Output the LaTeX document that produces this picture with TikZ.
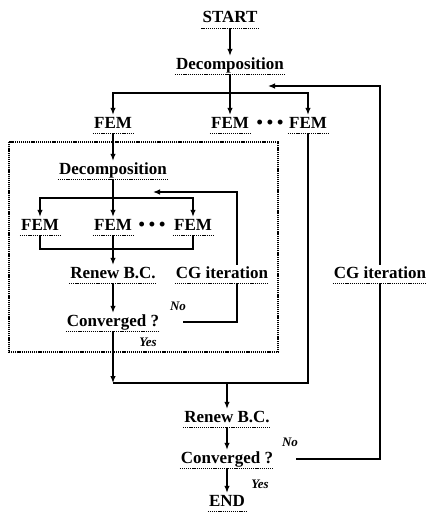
\documentclass[tikz,border=0pt]{standalone}
\usepackage{fontspec}
\setmainfont{Liberation Serif}
\usetikzlibrary{arrows.meta}

\begin{document}
\begin{tikzpicture}[x=1pt, y=-1pt,
    uline/.style={dash pattern=on 1.2pt off 0.9pt, line width=1.2pt},
    lbl/.style={font=\fontsize{17}{20}\selectfont\bfseries, inner xsep=0pt, inner ysep=1.5pt, text height=11.5pt, text depth=3.5pt,
      append after command={\pgfextra{\draw[uline] ([xshift=-1pt]\tikzlastnode.south west) -- ([xshift=1pt]\tikzlastnode.south east);}}},
    dots/.style={font=\fontsize{18}{20}\selectfont\bfseries, inner xsep=0pt, inner ysep=1.5pt, text height=11.5pt, text depth=3.5pt},
    note/.style={font=\fontsize{13}{14}\selectfont\bfseries\itshape, inner sep=1pt},
    line/.style={line width=1.2pt},
    arrow/.style={line, -{Latex[length=7pt, width=5.5pt]}},
    frame/.style={dash pattern=on 1.2pt off 0.9pt, line width=1.3pt}
  ]
  \useasboundingbox (0,0) rectangle (428,514);

  % outer level
  \node[lbl] (start) at (230,19) {START};
  \node[lbl] (dec) at (230,65) {Decomposition};
  \node[lbl] (fem1) at (113,124) {FEM};
  \node[lbl] (fem2) at (230,124) {FEM};
  \node[dots] (dots) at (270,124) {•\hspace{4pt}•\hspace{4pt}•};
  \node[lbl] (fem3) at (308,124) {FEM};
  \node[lbl] (cgo) at (380,274) {CG iteration};
  \node[lbl] (renew) at (227,418) {Renew B.C.};
  \node[lbl] (conv) at (227,459) {Converged ?};
  \node[lbl] (end) at (227,502) {END};
  \node[note] (no) at (290,442) {No};
  \node[note] (yes) at (260,484) {Yes};

  % inner level
  \node[lbl] (idec) at (113,170) {Decomposition};
  \node[lbl] (ifem1) at (40,226) {FEM};
  \node[lbl] (ifem2) at (113,226) {FEM};
  \node[dots] (idots) at (152,226) {•\hspace{4pt}•\hspace{4pt}•};
  \node[lbl] (ifem3) at (193,226) {FEM};
  \node[lbl] (irenew) at (113,274) {Renew B.C.};
  \node[lbl] (icg) at (222,274) {CG iteration};
  \node[lbl] (iconv) at (113,322) {Converged ?};
  \node[note] (ino) at (178,306) {No};
  \node[note] (iyes) at (148,342) {Yes};

  \coordinate (split) at (230,93);
  \coordinate (fb) at (268,86);
  \coordinate (isplit) at (113,198);
  \coordinate (ifb) at (153,192);
  \coordinate (ijoin) at (113,249);
  \coordinate (ojoinL) at (113,383);
  \coordinate (ojoin) at (227,383);

  \draw[frame] (9,142) rectangle (278,352);

  \draw[arrow] (start.south) -- (dec.north);
  \draw[arrow] (dec.south) -- (fem2.north);
  \draw[arrow] (split) -| (fem1.north);
  \draw[arrow] (split) -| (fem3.north);
  \draw[arrow] (cgo.north) |- (fb);
  \draw[line] (cgo.south) |- ([xshift=23pt]conv.east);

  \draw[arrow] (fem1.south) -- (idec.north);
  \draw[arrow] (idec.south) -- (ifem2.north);
  \draw[arrow] (isplit) -| (ifem1.north);
  \draw[arrow] (isplit) -| (ifem3.north);
  \draw[line] (ifem1.south) |- (ijoin) -| (ifem3.south);
  \draw[arrow] (ifem2.south) -- (irenew.north);
  \draw[arrow] (irenew.south) -- (iconv.north);
  \draw[arrow] ([xshift=15pt]icg.north) |- (ifb);
  \draw[line] ([xshift=15pt]icg.south) |- ([xshift=24pt]iconv.east);

  \draw[arrow] (iconv.south) -- (ojoinL);
  \draw[line] (fem3.south) |- (ojoinL);
  \draw[arrow] (ojoin) -- (renew.north);
  \draw[arrow] (renew.south) -- (conv.north);
  \draw[arrow] (conv.south) -- (end.north);
\end{tikzpicture}
\end{document}
